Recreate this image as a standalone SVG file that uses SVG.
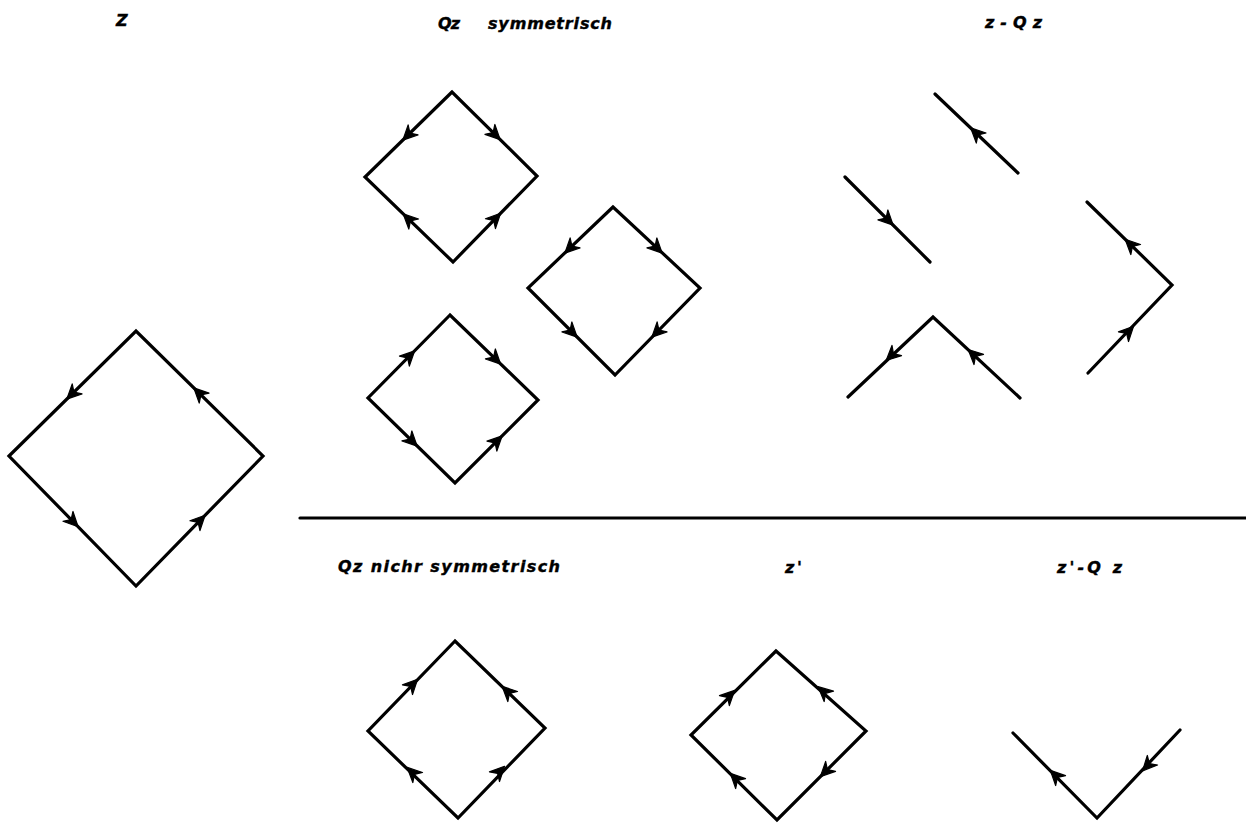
<svg xmlns="http://www.w3.org/2000/svg" xmlns:xlink="http://www.w3.org/1999/xlink" width="1246" height="823" viewBox="0 0 1246 823">
<style>
.ln{fill:none;stroke:#000;stroke-width:3.2;stroke-linejoin:miter;stroke-linecap:round}
.lb{font-family:"DejaVu Sans","Liberation Sans",sans-serif;font-weight:bold;font-style:oblique;font-size:16px;fill:#000;stroke:#000;stroke-width:0.4}
</style>
<defs>
<path id="ah" d="M8,0 L-6.5,-7 L-2,0 L-6.5,7 Z" fill="#000" stroke="#000" stroke-width="1.2" stroke-linejoin="round"/>
</defs>
<rect width="1246" height="823" fill="#fff"/>
<g id="labels">
<text class="lb" x="116" y="26" font-size="21" textLength="15">Z</text>
<text class="lb" x="438" y="29" textLength="22">Qz</text>
<text class="lb" x="488" y="29" textLength="124">symmetrisch</text>
<text class="lb" x="985" y="28" textLength="57">z - Q z</text>
<text class="lb" x="338" y="572" textLength="222">Qz nichr symmetrisch</text>
<text class="lb" x="785" y="573" textLength="17">z'</text>
<text class="lb" x="1057" y="573" textLength="65">z'-Q z</text>
</g>
<g id="connectors">
<line class="ln" x1="300" y1="518" x2="1246" y2="518"/>
</g>
<g id="Z">
<polygon class="ln" points="9,456 136,331 263,456 136,586"/>
<use xlink:href="#ah" transform="translate(72.5,393.5) rotate(135.5)"/>
<use xlink:href="#ah" transform="translate(199.5,393.5) rotate(224.5)"/>
<use xlink:href="#ah" transform="translate(72.5,521) rotate(45.7)"/>
<use xlink:href="#ah" transform="translate(199.5,521) rotate(-45.7)"/>
</g>
<g id="Qz-sym-1">
<polygon class="ln" points="452,92 365,177 453,262 537,176"/>
<use xlink:href="#ah" transform="translate(408.5,134.5) rotate(135)"/>
<use xlink:href="#ah" transform="translate(494.5,134) rotate(45)"/>
<use xlink:href="#ah" transform="translate(409,219.5) rotate(224)"/>
<use xlink:href="#ah" transform="translate(495,219) rotate(-45.7)"/>
</g>
<g id="Qz-sym-2">
<polygon class="ln" points="613,207 528,288 615,375 700,288"/>
<use xlink:href="#ah" transform="translate(570.5,247.5) rotate(135)"/>
<use xlink:href="#ah" transform="translate(656.5,247.5) rotate(45)"/>
<use xlink:href="#ah" transform="translate(571.5,331.5) rotate(45)"/>
<use xlink:href="#ah" transform="translate(657.5,331.5) rotate(135)"/>
</g>
<g id="Qz-sym-3">
<polygon class="ln" points="450,315 368,398 455,483 538,400"/>
<use xlink:href="#ah" transform="translate(409,356.5) rotate(-45)"/>
<use xlink:href="#ah" transform="translate(495,358.5) rotate(45)"/>
<use xlink:href="#ah" transform="translate(411.5,440.5) rotate(45)"/>
<use xlink:href="#ah" transform="translate(496.5,441.5) rotate(-45)"/>
</g>
<g id="z-minus-Qz">
<polyline class="ln" points="935,94 1018,173"/>
<use xlink:href="#ah" transform="translate(976.5,133.5) rotate(224)"/>
<polyline class="ln" points="845,177 930,262"/>
<use xlink:href="#ah" transform="translate(887.5,219.5) rotate(45)"/>
<polyline class="ln" points="848,397 933,317 1020,398"/>
<use xlink:href="#ah" transform="translate(892,355) rotate(137)"/>
<use xlink:href="#ah" transform="translate(974,355) rotate(223)"/>
<polyline class="ln" points="1087,202 1172,285 1088,373"/>
<use xlink:href="#ah" transform="translate(1131,245) rotate(224)"/>
<use xlink:href="#ah" transform="translate(1128,332) rotate(-46)"/>
</g>
<g id="Qz-nicht-sym">
<polygon class="ln" points="455,641 368,731 458,818 545,728"/>
<use xlink:href="#ah" transform="translate(412,685) rotate(-46)"/>
<use xlink:href="#ah" transform="translate(508,692) rotate(224)"/>
<use xlink:href="#ah" transform="translate(413,773) rotate(224)"/>
<use xlink:href="#ah" transform="translate(499,772) rotate(-46)"/>
</g>
<g id="z-prime">
<polygon class="ln" points="776,651 691,735 777,820 866,731"/>
<use xlink:href="#ah" transform="translate(729,696) rotate(-45)"/>
<use xlink:href="#ah" transform="translate(824,692) rotate(222)"/>
<use xlink:href="#ah" transform="translate(736,779) rotate(225)"/>
<use xlink:href="#ah" transform="translate(826,771) rotate(135)"/>
</g>
<g id="z-prime-minus-Qz">
<polyline class="ln" points="1013,733 1097,818 1180,730"/>
<use xlink:href="#ah" transform="translate(1056,776) rotate(225)"/>
<use xlink:href="#ah" transform="translate(1148,765) rotate(133)"/>
</g>
</svg>
